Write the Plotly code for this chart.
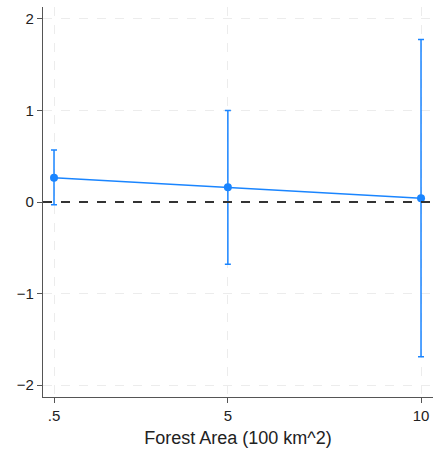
import plotly.graph_objects as go

x_vals = [0.5, 5, 10]
estimates = [0.265, 0.16, 0.04]
ci_low = [-0.03, -0.68, -1.69]
ci_high = [0.567, 1.0, 1.774]
x_tick_vals = [0.5, 5, 10]
x_tick_text = [".5", "5", "10"]
y_tick_vals = [-2, -1, 0, 1, 2]
y_tick_text = ["\u22122", "\u22121", "0", "1", "2"]

blue = "#1a85ff"

fig = go.Figure()
fig.add_trace(go.Scatter(
    x=x_vals, y=estimates, mode="lines+markers",
    line=dict(color=blue, width=1.5),
    marker=dict(color=blue, size=8),
    error_y=dict(type="data", symmetric=False,
                 array=[h - e for h, e in zip(ci_high, estimates)],
                 arrayminus=[e - l for e, l in zip(estimates, ci_low)],
                 color=blue, thickness=1.5, width=3),
    showlegend=False,
))
fig.add_shape(type="line", xref="paper", yref="y", x0=0, x1=1, y0=0, y1=0,
              line=dict(color="#333333", width=1.8, dash="dash"), layer="above")

font = dict(family="Liberation Sans, Arial, sans-serif", size=15, color="#222")
fig.update_layout(
    width=436, height=453,
    margin=dict(l=43, r=3, t=7, b=56),
    paper_bgcolor="white", plot_bgcolor="white",
    font=font,
    xaxis=dict(range=[0.215, 10.31], tickvals=x_tick_vals, ticktext=x_tick_text,
               showgrid=True, gridcolor="#ececec", griddash="dash", gridwidth=1.2,
               showline=True, linecolor="#555", linewidth=1.2,
               ticks="outside", ticklen=5, tickcolor="#555",
               zeroline=False, automargin=False,
               title=dict(text="Forest Area (100 km^2)", standoff=8)),
    yaxis=dict(range=[-2.13, 2.13], tickvals=y_tick_vals, ticktext=y_tick_text,
               showgrid=True, gridcolor="#ececec", griddash="dash", gridwidth=1.2,
               showline=True, linecolor="#555", linewidth=1.2,
               ticks="outside", ticklen=5, tickcolor="#555",
               zeroline=False, automargin=False),
)
fig.write_html("out.html", config={"displayModeBar": False},
               post_script="document.body.style.margin='0';document.body.style.overflow='hidden';")
